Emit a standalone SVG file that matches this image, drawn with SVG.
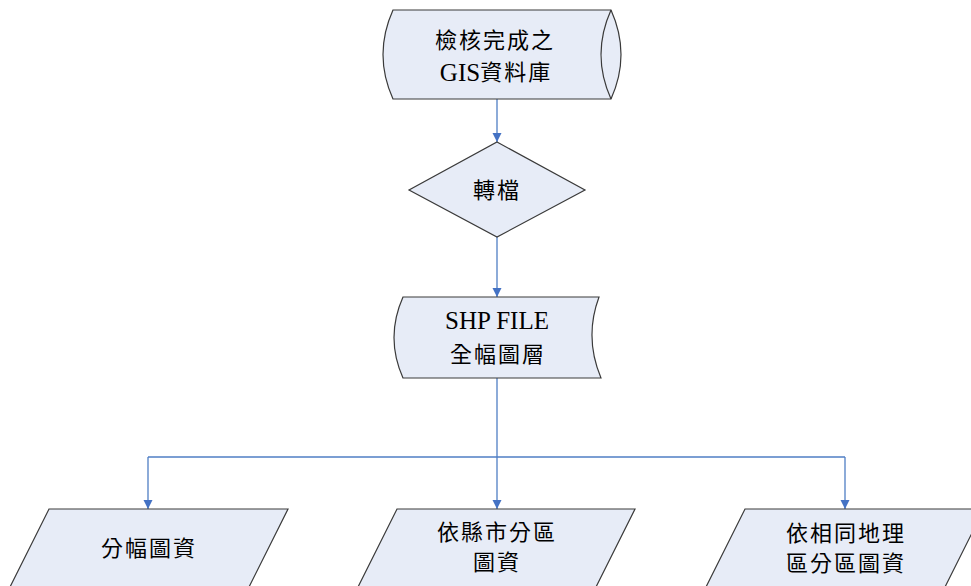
<svg xmlns="http://www.w3.org/2000/svg" width="971" height="586" viewBox="0 0 971 586">
<style>
.shape{fill:#E7ECF7;stroke:#3A3A3A;stroke-width:1.2}
.inner{fill:none;stroke:#3A3A3A;stroke-width:1.2}
.lbl{font-family:"Liberation Serif","Noto Sans CJK TC",serif;font-size:22px;fill:#000;text-anchor:middle;dominant-baseline:central;letter-spacing:2px}
.lat{font-size:25px;letter-spacing:0}
.conn{fill:none;stroke:#4F7EC4;stroke-width:1.3}
</style>
<defs>
<marker id="arr" viewBox="0 0 10 10" refX="10" refY="5" markerWidth="9" markerHeight="10" markerUnits="userSpaceOnUse" orient="auto">
<path d="M0,0 L10,5 L0,10 z" fill="#4472C4"/>
</marker>
</defs>
<rect width="971" height="586" fill="#FFFFFF"/>
<g id="connectors">
<path class="conn" d="M497,99 L497,142" marker-end="url(#arr)"/>
<path class="conn" d="M497,237 L497,297" marker-end="url(#arr)"/>
<path class="conn" d="M497,378 L497,457"/>
<path class="conn" d="M148,457 L845,457"/>
<path class="conn" d="M148,457 L148,509" marker-end="url(#arr)"/>
<path class="conn" d="M497,457 L497,509" marker-end="url(#arr)"/>
<path class="conn" d="M845,457 L845,509" marker-end="url(#arr)"/>
</g>
<g id="gis-db">
<path class="shape" d="M393,10 L611,10 Q631,54.5 611,99 L393,99 Q373,54.5 393,10 Z"/>
<path class="inner" d="M611,99 Q591,54.5 611,10"/>
<text class="lbl" x="495" y="40">檢核完成之</text>
<text class="lbl" x="496" y="72"><tspan class="lat">GIS</tspan>資料庫</text>
</g>
<g id="convert">
<path class="shape" d="M497,142 L585,190 L497,237 L409,190 Z"/>
<text class="lbl" x="497" y="190">轉檔</text>
</g>
<g id="shp-file">
<path class="shape" d="M403,297 L599,297 Q584,337.5 601,378 L403,378 Q385,337.5 403,297 Z"/>
<text class="lbl lat" x="497" y="320">SHP FILE</text>
<text class="lbl" x="498" y="354">全幅圖層</text>
</g>
<g id="sheet-data">
<path class="shape" d="M49,509 L288,509 L247,591 L8,591 Z"/>
<text class="lbl" x="149" y="548">分幅圖資</text>
</g>
<g id="county-data">
<path class="shape" d="M397,509 L635,509 L594,591 L356,591 Z"/>
<text class="lbl" x="497" y="532">依縣市分區</text>
<text class="lbl" x="497" y="562">圖資</text>
</g>
<g id="geo-data">
<path class="shape" d="M745,509 L984,509 L943,591 L704,591 Z"/>
<text class="lbl" x="846" y="533">依相同地理</text>
<text class="lbl" x="846" y="563">區分區圖資</text>
</g>
</svg>
